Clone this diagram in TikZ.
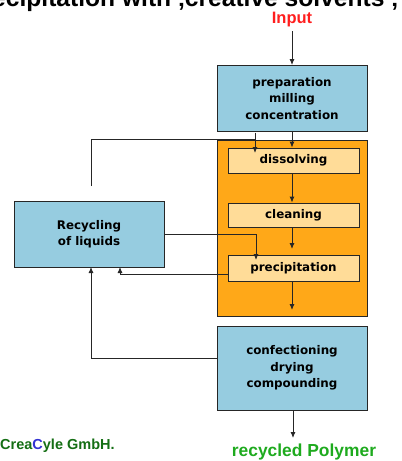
\documentclass[tikz,border=0pt]{standalone}
\usepackage{fontspec}
\setmainfont{Liberation Sans}
\newfontfamily\boxfont{DejaVu Sans}
\usetikzlibrary{arrows.meta}
\definecolor{boxblue}{RGB}{150,204,224}
\definecolor{bigorange}{RGB}{255,168,24}
\definecolor{lightorange}{RGB}{255,220,152}
\definecolor{inred}{RGB}{255,30,30}
\definecolor{polygreen}{RGB}{30,170,30}
\definecolor{creagreen}{RGB}{20,110,20}
\definecolor{creablue}{RGB}{50,50,210}
\tikzset{
  box/.style={draw=black!85, line width=0.9pt, minimum width=#1, align=center,
    font=\boxfont\bfseries\fontsize{11.9}{16.5}\selectfont, inner sep=0pt},
  bluebox/.style={box=150pt, fill=boxblue},
  stepbox/.style={box=131pt, fill=lightorange},
  conn/.style={line width=0.9pt, draw=black!85},
  arr/.style={conn, -{Latex[length=6pt,width=5pt]}},
}
\begin{document}
\begin{tikzpicture}[x=1pt,y=-1pt]
\useasboundingbox (0,0) rectangle (402,461);
% title (partly cut off at the top of the picture)
\node[anchor=base west, inner sep=0pt, font=\bfseries\fontsize{24.6}{26}\selectfont] (title) at (-8,6.5) {ecipitation with ‚creative solvents ‚};
\node[inner sep=0pt, text=inred, font=\bfseries\fontsize{16.5}{18}\selectfont] (input) at (292,19.5) {Input};
% boxes
\node[bluebox, minimum height=66pt] (prep) at (292,98.5) {preparation\\milling\\concentration};
\node[draw=black!85, line width=0.9pt, fill=bigorange, minimum width=150pt, minimum height=176pt, inner sep=0pt] (orange) at (292,228) {};
\node[stepbox, minimum height=25pt] (diss) at (293.5,160.5) {dissolving};
\node[stepbox, minimum height=24pt] (clean) at (293.5,215) {cleaning};
\node[stepbox, minimum height=26pt] (precip) at (293.5,268) {precipitation};
\node[bluebox, minimum height=66pt] (recyc) at (89,234) {Recycling\\of liquids};
\node[bluebox, minimum height=84pt] (conf) at (292,368) {confectioning\\drying\\compounding};
\node[inner sep=0pt, text=polygreen, font=\bfseries\fontsize{17.4}{19}\selectfont] (poly) at (304,452) {recycled Polymer};
\node[anchor=base west, inner sep=0pt, text=creagreen, font=\bfseries\fontsize{14.5}{16}\selectfont] (crea) at (0,449) {Crea\textcolor{creablue}{C}yle GmbH.};
% helper coordinates
\coordinate (free) at (91,186);
\coordinate (t1) at (255,153);
\coordinate (t2) at (256,260);
\coordinate (t3) at (292,249);
\coordinate (t4) at (292,310);
\coordinate (t5) at (293,438);
\coordinate (k3) at (120,267);
\coordinate (k4) at (91,267);
% main flow
\draw[arr] (input.south) ++(0,4) -- (prep.north -| input);
\draw[arr] (prep.south -| 292,0) -- (diss.north -| 292,0);
\draw[arr] (diss.south -| 292,0) -- (clean.north -| 292,0);
\draw[arr] (clean.south -| t3) -- (t3);
\draw[arr] (precip.south -| t4) -- (t4);
\draw[arr] (conf.south -| t5) -- (t5);
% recycling loops
\draw[arr] (free) |- (orange.north -| t1) ++(0,-7) -| (t1);
\draw[arr] (recyc.east |- 0,234) -| (t2);
\draw[arr] (precip.west |- 0,274) -| (k3);
\draw[arr] (conf.west |- 0,358) -| (k4);
\end{tikzpicture}
\end{document}
